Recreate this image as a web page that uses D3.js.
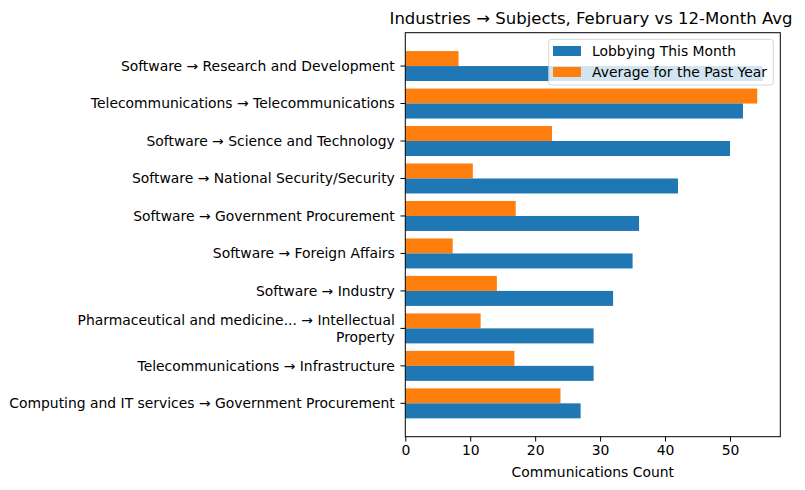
<!DOCTYPE html>
<html><head><meta charset="utf-8">
<script src="https://cdn.jsdelivr.net/npm/d3@7"></script>
<style>body{margin:0;background:#fff}svg{display:block;font-family:"DejaVu Sans",sans-serif}</style>
</head><body><svg id="c" width="805" height="490"></svg>
<script>
const categories = [
  "Software → Research and Development",
  "Telecommunications → Telecommunications",
  "Software → Science and Technology",
  "Software → National Security/Security",
  "Software → Government Procurement",
  "Software → Foreign Affairs",
  "Software → Industry",
  "Pharmaceutical and medicine... → Intellectual\nProperty",
  "Telecommunications → Infrastructure",
  "Computing and IT services → Government Procurement"
];
const thisMonth = [55, 52, 50, 42, 36, 35, 32, 29, 29, 27];
const pastYearAvg = [8.2, 54.2, 22.6, 10.4, 17.0, 7.3, 14.1, 11.6, 16.8, 23.9];
const xTicks = [0, 10, 20, 30, 40, 50];
const seriesNames = ["Lobbying This Month", "Average for the Past Year"];
const colors = ["#1f77b4", "#ff7f0e"];

const svg = d3.select("#c");
const L = 405.3, R = 780.3, T = 32.7, B = 436.7;
const xMax = d3.max(thisMonth.concat(pastYearAvg)) * 1.05;
const x = d3.scaleLinear().domain([0, xMax]).range([L, R]);
const y = d3.scaleLinear().domain([-0.89, categories.length - 1 + 0.89]).range([T, B]);
const bh = 0.4;
const tk = 4.86;

const g = svg.append("g");
g.selectAll("rect.avg").data(pastYearAvg).join("rect")
  .attr("x", x(0)).attr("y", (d, i) => y(i - bh))
  .attr("width", d => x(d) - x(0)).attr("height", (d, i) => y(i) - y(i - bh))
  .attr("fill", colors[1]);
g.selectAll("rect.cur").data(thisMonth).join("rect")
  .attr("x", x(0)).attr("y", (d, i) => y(i))
  .attr("width", d => x(d) - x(0)).attr("height", (d, i) => y(i + bh) - y(i))
  .attr("fill", colors[0]);

svg.append("rect").attr("x", L).attr("y", T).attr("width", R - L).attr("height", B - T)
  .attr("fill", "none").attr("stroke", "#000").attr("stroke-width", 1);

const xa = svg.append("g").attr("transform", `translate(0,${B})`)
  .call(d3.axisBottom(x).tickValues(xTicks).tickSize(tk).tickPadding(3.5).tickFormat(d3.format("d")));
xa.select(".domain").remove();
xa.selectAll("text").attr("font-size", 13.9).attr("fill", "#000").attr("font-family", "DejaVu Sans");
xa.selectAll("line").attr("stroke", "#000");

svg.append("text").attr("x", (L + R) / 2).attr("y", 477).attr("text-anchor", "middle")
  .attr("font-size", 13.9).text("Communications Count");

const ya = svg.append("g");
categories.forEach((c, i) => {
  const yy = y(i);
  ya.append("line").attr("x1", L - tk).attr("x2", L).attr("y1", yy).attr("y2", yy).attr("stroke", "#000");
  const lines = c.split("\n");
  const lh = 16.5;
  const t = ya.append("text").attr("text-anchor", "end").attr("font-size", 13.9);
  lines.forEach((ln, k) => {
    t.append("tspan").attr("x", L - 10.5).attr("y", yy + (k - (lines.length - 1) / 2) * lh).attr("dy", "0.35em").text(ln);
  });
});

svg.append("text").attr("x", 591).attr("y", 24).attr("text-anchor", "middle")
  .attr("font-size", 16.5).text("Industries → Subjects, February vs 12-Month Avg");

const lg = svg.append("g");
lg.append("rect").attr("x", 548.7).attr("y", 39.3).attr("width", 224.6).attr("height", 45.7)
  .attr("rx", 3).attr("fill", "#fff").attr("fill-opacity", 0.8).attr("stroke", "#ccc").attr("stroke-opacity", 0.8);
seriesNames.forEach((n, k) => {
  const cy = 51 + k * 21;
  lg.append("rect").attr("x", 553).attr("y", cy - 5).attr("width", 28).attr("height", 10).attr("fill", colors[k]);
  lg.append("text").attr("x", 592).attr("y", cy).attr("dy", "0.35em").attr("font-size", 13.9).text(n);
});
</script></body></html>
